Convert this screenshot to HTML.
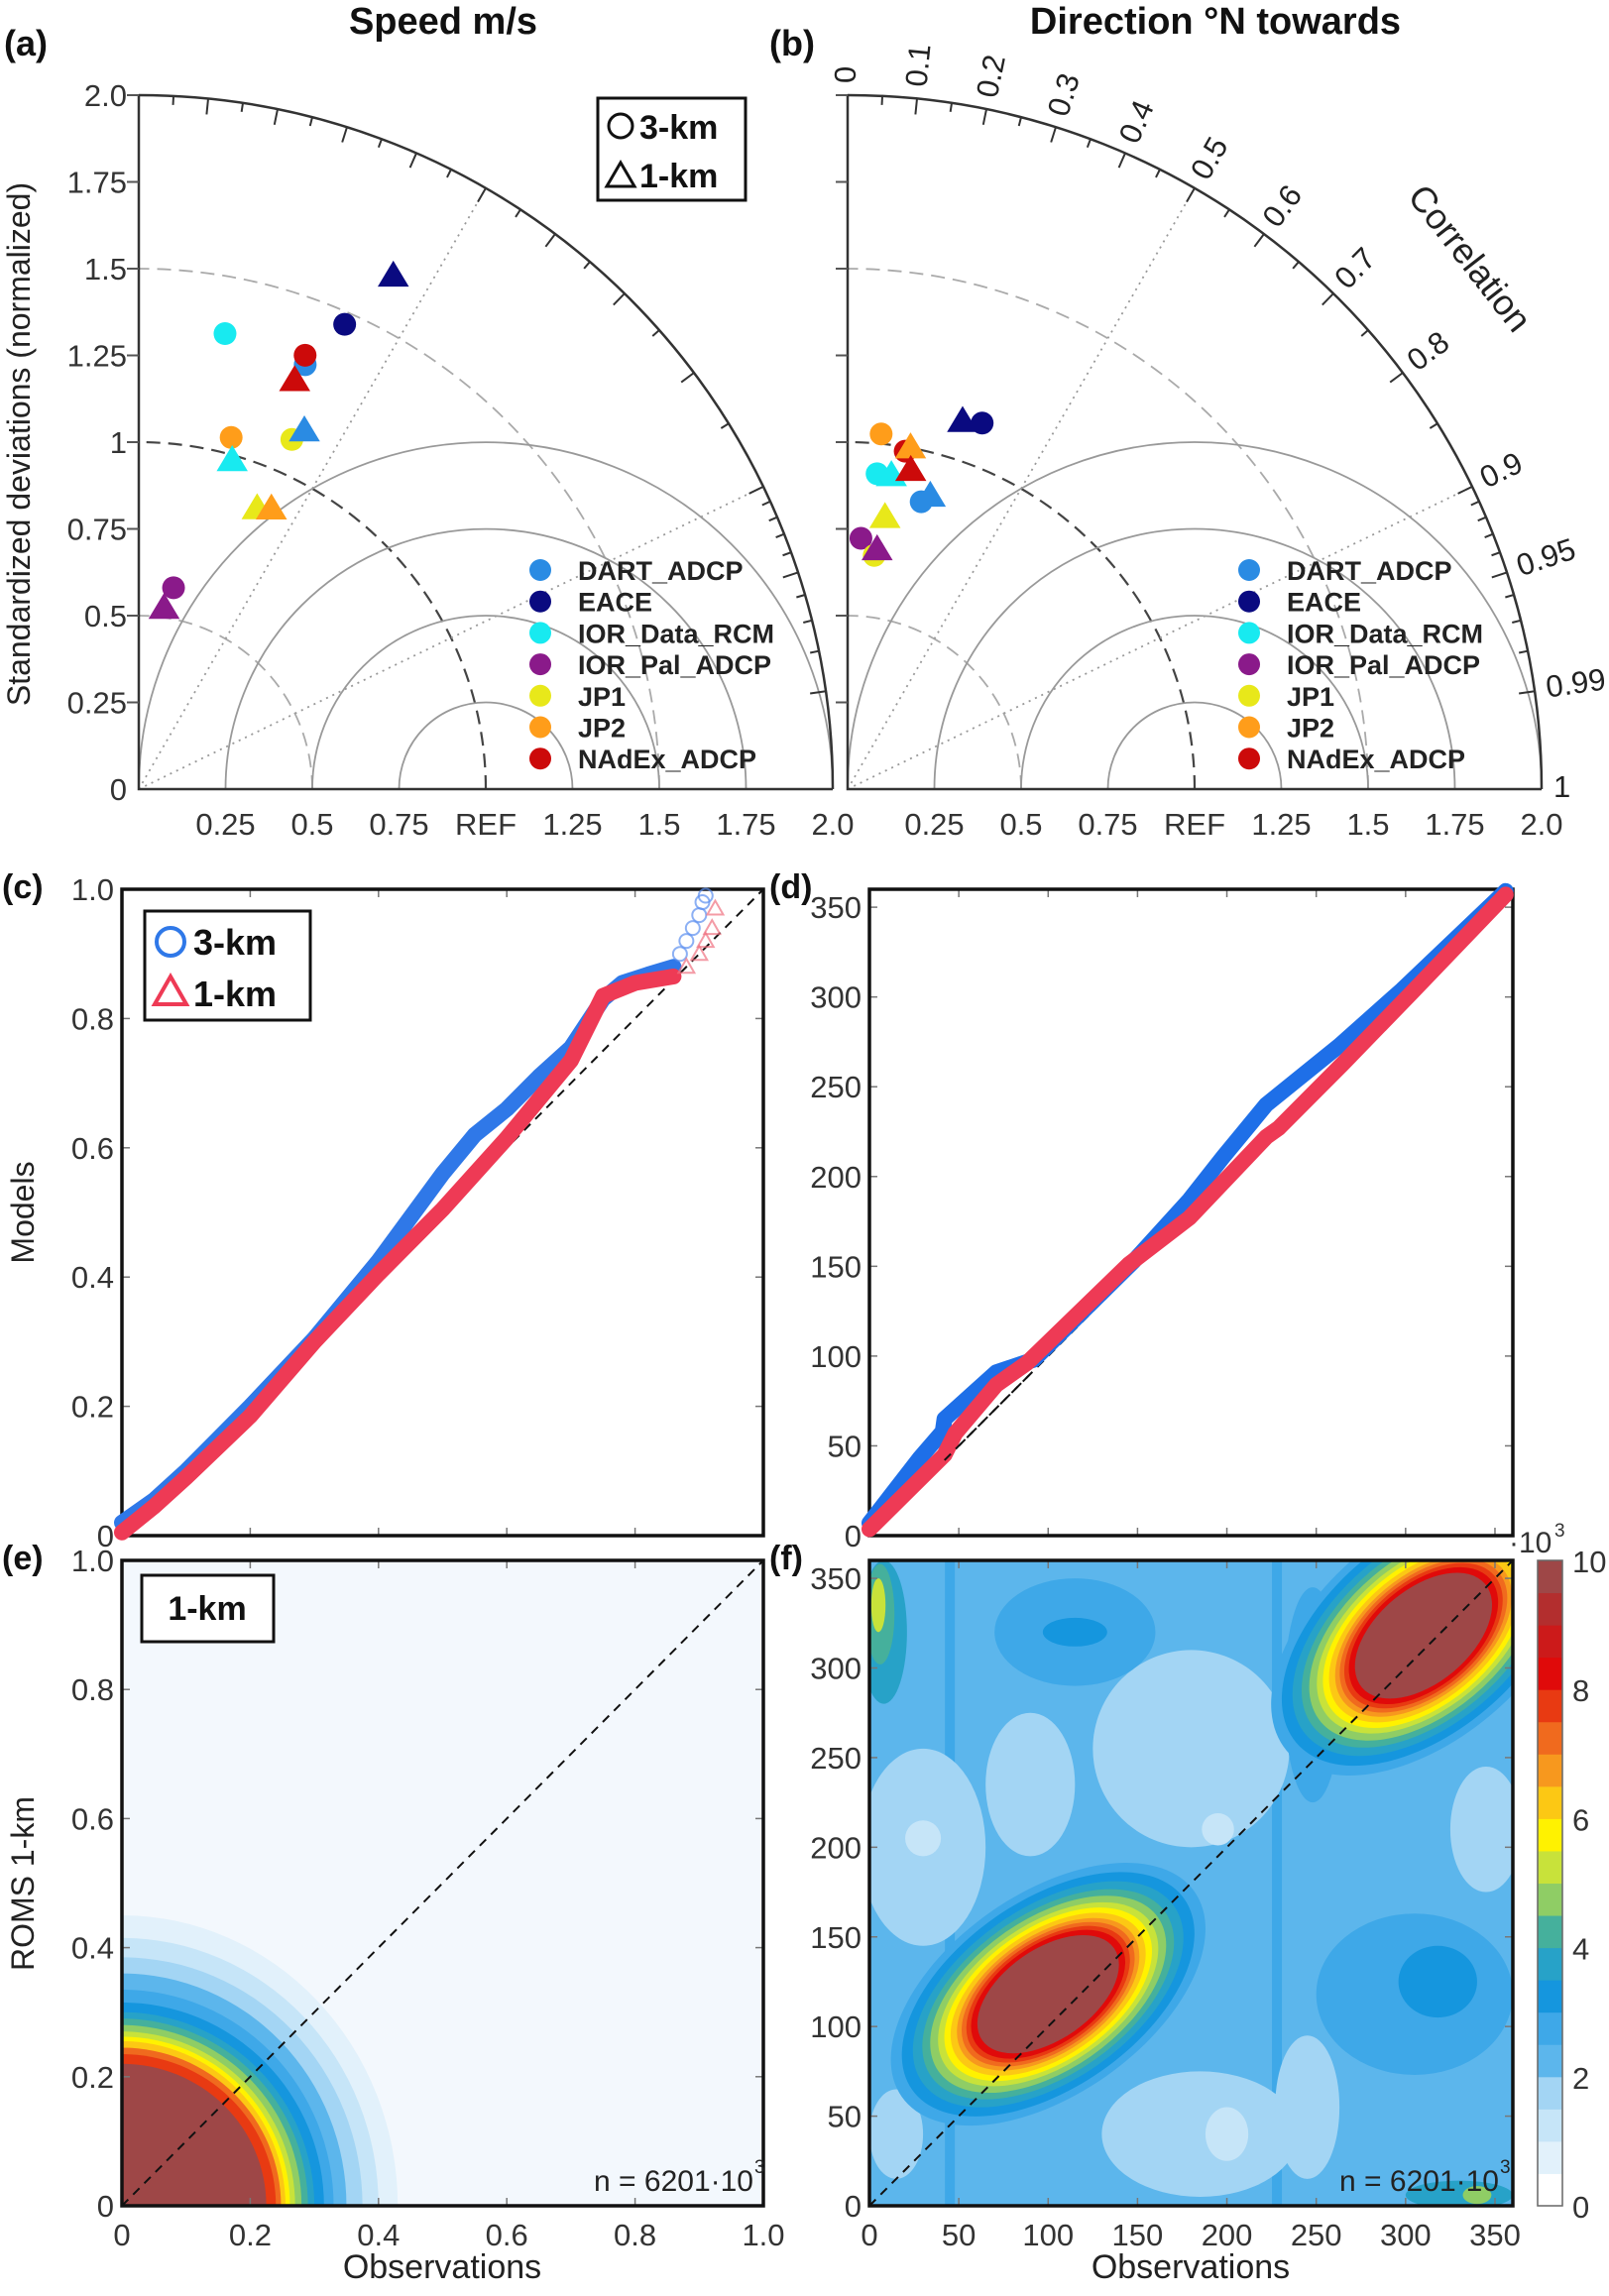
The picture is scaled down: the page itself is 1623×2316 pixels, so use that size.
<!DOCTYPE html>
<html><head><meta charset="utf-8"><style>
html,body{margin:0;padding:0;background:#fff;overflow:hidden;width:1623px;height:2316px;}
svg{display:block;font-family:"Liberation Sans",Arial,sans-serif;}
</style></head><body>
<svg id="chart" xmlns="http://www.w3.org/2000/svg" width="1623" height="2316" viewBox="0 0 1623 2316">
<defs>
<clipPath id="clipE"><rect x="123" y="1574" width="647" height="651"/></clipPath>
<clipPath id="clipF"><rect x="877" y="1574" width="649" height="651"/></clipPath>
</defs>
<text x="447" y="34" font-size="38" font-weight="bold" text-anchor="middle" fill="#111">Speed m/s</text>
<text x="1226" y="34" font-size="38" font-weight="bold" text-anchor="middle" fill="#111">Direction °N towards</text>
<text x="4" y="56" font-size="36" font-weight="bold" fill="#111">(a)</text>
<text x="776" y="56" font-size="36" font-weight="bold" fill="#111">(b)</text>
<text x="2" y="906" font-size="34" font-weight="bold" fill="#111">(c)</text>
<text x="776" y="906" font-size="34" font-weight="bold" fill="#111">(d)</text>
<text x="2" y="1583" font-size="34" font-weight="bold" fill="#111">(e)</text>
<text x="776" y="1583" font-size="34" font-weight="bold" fill="#111">(f)</text>
<text transform="translate(30,448) rotate(-90)" font-size="32" text-anchor="middle" fill="#222">Standardized deviations (normalized)</text>
<text transform="translate(1473,268) rotate(52)" font-size="36" text-anchor="middle" fill="#222">Correlation</text>
<text transform="translate(34,1223) rotate(-90)" font-size="32" text-anchor="middle" fill="#222">Models</text>
<text transform="translate(34,1900) rotate(-90)" font-size="32" text-anchor="middle" fill="#222">ROMS 1-km</text>
<text x="446" y="2298" font-size="34" text-anchor="middle" fill="#222">Observations</text>
<text x="1201" y="2298" font-size="34" text-anchor="middle" fill="#222">Observations</text>
<g id="gA"></g>
<g id="gB"></g>
<g id="gC"></g>
<g id="gD"></g>
<g id="gE"></g>
<g id="gF"></g>
<g id="gCB"></g>
<g>
<rect x="603" y="99" width="149" height="103" fill="#fff" stroke="#111" stroke-width="3"/>
<circle cx="626" cy="127" r="12" fill="none" stroke="#111" stroke-width="3"/>
<text x="645" y="140" font-size="34" font-weight="bold" fill="#111">3-km</text>
<path d="M626,164 L640,188 L612,188 Z" fill="none" stroke="#111" stroke-width="3"/>
<text x="645" y="189" font-size="34" font-weight="bold" fill="#111">1-km</text>
</g>
<g>
<rect x="146" y="919" width="167" height="110" fill="#fff" stroke="#111" stroke-width="3"/>
<circle cx="172" cy="950" r="14" fill="none" stroke="#2f78e8" stroke-width="4"/>
<text x="195" y="963" font-size="36" font-weight="bold" fill="#111">3-km</text>
<path d="M172,985 L188,1013 L156,1013 Z" fill="none" stroke="#ee3a55" stroke-width="4"/>
<text x="195" y="1015" font-size="36" font-weight="bold" fill="#111">1-km</text>
</g>
<script>
// ---------- DATA ----------
const sites = ['DART_ADCP','EACE','IOR_Data_RCM','IOR_Pal_ADCP','JP1','JP2','NAdEx_ADCP'];
const siteColors = ['#2a8be3','#0a0a80','#18eaf0','#8a1a8a','#e8e81a','#ff9d1a','#cc0a0a'];
const speedStd3 = [1.314,1.465,1.336,0.589,1.100,1.048,1.339];
const speedCor3 = [0.365,0.405,0.186,0.170,0.401,0.254,0.358];
const speedStd1 = [1.139,1.652,0.986,0.528,0.879,0.895,1.262];
const speedCor1 = [0.419,0.444,0.273,0.138,0.388,0.427,0.356];
const dirStd3 = [0.855,1.124,0.913,0.724,0.678,1.028,0.988];
const dirCor3 = [0.248,0.345,0.093,0.053,0.113,0.094,0.168];
const dirStd1 = [0.879,1.112,0.914,0.697,0.792,1.002,0.938];
const dirCor1 = [0.271,0.298,0.138,0.122,0.136,0.181,0.194];
const corrLabels = ['0','0.1','0.2','0.3','0.4','0.5','0.6','0.7','0.8','0.9','0.95','0.99','1'];
const corrLabelVals = [0,0.1,0.2,0.3,0.4,0.5,0.6,0.7,0.8,0.9,0.95,0.99,1];
const stdTicks = [0.25,0.5,0.75,1,1.25,1.5,1.75,2.0];
const stdTickLabels = ['0.25','0.5','0.75','1','1.25','1.5','1.75','2.0'];
const stdXLabels = ['0.25','0.5','0.75','REF','1.25','1.5','1.75','2.0'];
const qqSpeedObs3 = [0,0.05,0.1,0.15,0.2,0.3,0.4,0.5,0.55,0.6,0.65,0.7,0.75,0.78,0.82,0.86];
const qqSpeedMod3 = [0.02,0.055,0.1,0.15,0.2,0.305,0.425,0.56,0.62,0.66,0.71,0.755,0.83,0.855,0.868,0.88];
const qqSpeedTailObs3 = [0.87,0.88,0.89,0.9,0.905,0.91];
const qqSpeedTailMod3 = [0.9,0.92,0.94,0.96,0.98,0.99];
const qqSpeedObs1 = [0,0.05,0.1,0.2,0.3,0.4,0.5,0.6,0.7,0.75,0.8,0.86];
const qqSpeedMod1 = [0.005,0.045,0.09,0.185,0.3,0.405,0.505,0.615,0.735,0.835,0.855,0.865];
const qqSpeedTailObs1 = [0.88,0.9,0.91,0.92,0.925];
const qqSpeedTailMod1 = [0.88,0.9,0.92,0.94,0.97];
const qqDirObs3 = [0,28,41,42,71,92,148,179,198,222,263,298,356];
const qqDirMod3 = [7,43,58,65,91,98,153,187,211,240,273,304,359];
const qqDirObs1 = [0,42,48,71,88,145,179,222,229,265,303,356];
const qqDirMod1 = [3.6,45,57,84,96,151,177,222,227,263,302,357];
const unitTicks = [0,0.2,0.4,0.6,0.8,1.0];
const unitTickLabels = ['0','0.2','0.4','0.6','0.8','1.0'];
const degTicks = [0,50,100,150,200,250,300,350];
const degTickLabels = ['0','50','100','150','200','250','300','350'];
const cbTicks = [0,2,4,6,8,10];
const cbTickLabels = ['0','2','4','6','8','10'];
const cmap = ['#ffffff','#e2f1fb','#c6e5f8','#a3d5f4','#5cb6ec','#3ea8e8','#1596de','#27a2c8','#45b09c','#8fcd65',
              '#c8e23a','#fff200','#fcc814','#f7981e','#f06a1e','#e83a12','#e00a0a','#cc1a1a','#b32e2e','#9e4747'];
const eLevels = [0.6,1.1,1.6,2.1,2.6,3.1,3.6,4.1,4.6,5.1,5.6,6.1,7.1,7.6,9.8];
const eRadX = [0.43,0.40,0.375,0.35,0.33,0.315,0.30,0.29,0.28,0.27,0.262,0.255,0.248,0.24,0.225];
const eRadY = [0.45,0.415,0.385,0.36,0.335,0.315,0.30,0.29,0.28,0.27,0.262,0.255,0.245,0.235,0.22];
const fLevel = [1.6,1.1,1.6,1.2,1.6,1.1,1.6,1.7,1.7,1.8,2.8,3.3,2.8,3.4,2.7,3.6,4.4,5.0,3.8,4.6];
const fCx    = [30, 30, 180,195,185,200,245,345,15, 90, 115,115,305,318,248,8,  6,  5,  330,340];
const fCy    = [200,205,255,210,40, 40, 55, 210,40, 235,320,320,118,125,285,320,330,335,6,  6];
const fRx    = [35, 10, 55, 9,  55, 12, 18, 20, 15, 25, 45, 18, 55, 22, 16, 13, 8,  4,  30, 8];
const fRy    = [55, 10, 55, 9,  35, 15, 40, 35, 25, 40, 30, 8,  45, 20, 60, 40, 28, 15, 8,  5];
const stripeX = [45,228];
const stripeLevel = [2.8,2.9];
const blobCx = [100,310];
const blobCy = [118,318];
const blobA = [100,100];
const blobB = [56,58];
const blobAngle = [35,40];
const blobLevels = [2.6,3.1,3.6,4.1,4.6,5.1,5.6,6.1,6.6,7.1,7.6,8.1,9.8];
const blobScale = [1,0.93,0.86,0.8,0.75,0.7,0.66,0.62,0.58,0.55,0.52,0.49,0.45];

// ---------- DRAW ----------
const NS='http://www.w3.org/2000/svg';
function mk(tag, attrs, parent){const e=document.createElementNS(NS,tag);for(const k in attrs)e.setAttribute(k,attrs[k]);parent.appendChild(e);return e;}
function col(v){let i=Math.floor(v/0.5);if(i<0)i=0;if(i>19)i=19;return cmap[i];}

const U=350;
function taylor(g, ox, oy, stds3, cors3, stds1, cors1, withLabels, key){
  const R=2*U;
  [0.5,1.0,1.5].forEach(s=>{
    const e=mk('path',{d:`M${ox+s*U},${oy} A${s*U},${s*U} 0 0 0 ${ox},${oy-s*U}`,fill:'none',stroke:s===1?'#444':'#aaa','stroke-width':s===1?2.2:1.8,'stroke-dasharray':'14,8'},g);
    
    
  });
  [0.25,0.5,0.75,1.0].forEach(r=>{
    const cx=ox+U;
    const e=mk('path',{d:`M${cx+r*U},${oy} A${r*U},${r*U} 0 0 0 ${cx-r*U},${oy}`,fill:'none',stroke:'#999','stroke-width':1.8},g);
    
    
  });
  [0.5,0.9].forEach(c=>{
    const th=Math.acos(c);
    const e=mk('line',{x1:ox,y1:oy,x2:ox+R*Math.cos(th),y2:oy-R*Math.sin(th),stroke:'#999','stroke-width':1.8,'stroke-dasharray':'2,5'},g);
    
    
  });
  const oa=mk('path',{d:`M${ox+R},${oy} A${R},${R} 0 0 0 ${ox},${oy-R}`,fill:'none',stroke:'#333','stroke-width':2.5},g);
  
  
  const ax=mk('path',{d:`M${ox},${oy-R} L${ox},${oy} L${ox+R},${oy}`,fill:'none',stroke:'#333','stroke-width':2.5},g);
  
  
  const tv=[];for(let i=1;i<=18;i++)tv.push(i*0.05);for(let i=91;i<=99;i++)tv.push(i/100);
  tv.forEach(c=>{
    const th=Math.acos(c);const major=(Math.abs(c*10-Math.round(c*10))<1e-6)||c===0.95||c===0.99;
    const L=major?16:9;
    const t=mk('line',{x1:ox+R*Math.cos(th),y1:oy-R*Math.sin(th),x2:ox+(R-L)*Math.cos(th),y2:oy-(R-L)*Math.sin(th),stroke:'#333','stroke-width':2},g);
    
    
  });
  stdTicks.forEach((s,i)=>{
    const t=mk('line',{x1:ox-12,y1:oy-s*U,x2:ox,y2:oy-s*U,stroke:'#555','stroke-width':2},g);
    
    
    const xl=mk('text',{x:ox+s*U,y:oy+46,'font-size':31,'text-anchor':'middle',fill:'#333'},g);
    xl.textContent=stdXLabels[i];
    
    
    if(withLabels){
      const yl=mk('text',{x:ox-12,y:oy-s*U+11,'font-size':31,'text-anchor':'end',fill:'#333'},g);
      yl.textContent=stdTickLabels[i];
      
      
    }
  });
  if(withLabels){
    const z=mk('text',{x:ox-12,y:oy+11,'font-size':31,'text-anchor':'end',fill:'#333'},g);
    z.textContent='0';
    
    
  }
  function tri(x,y,color){
    const s=15;
    const p=mk('path',{d:`M${x},${y-s} L${x+s*1.05},${y+s*0.75} L${x-s*1.05},${y+s*0.75} Z`,fill:color},g);
    
    
  }
  sites.forEach((n,i)=>{
    const th=Math.acos(cors3[i]);
    const c=mk('circle',{cx:ox+stds3[i]*U*Math.cos(th),cy:oy-stds3[i]*U*Math.sin(th),r:11.5,fill:siteColors[i]},g);
    
    
  });
  sites.forEach((n,i)=>{
    const th=Math.acos(cors1[i]);
    tri(ox+stds1[i]*U*Math.cos(th),oy-stds1[i]*U*Math.sin(th),siteColors[i]);
  });
  const lx=ox+405, ty=ox+443;
  sites.forEach((n,i)=>{
    const y=575+31.7*i;
    const c=mk('circle',{cx:lx,cy:y,r:11,fill:siteColors[i]},g);
    
    
    const t=mk('text',{x:ty,y:y+10,'font-size':27,'font-weight':'bold',fill:'#222'},g);
    t.textContent=n;
    
    
  });
  if(key){
    corrLabelVals.forEach((c,i)=>{
      const th=Math.acos(c);const rr=R+12;
      const x=ox+rr*Math.cos(th),y=oy-rr*Math.sin(th);
      const t=mk('text',{x:x,y:y,'font-size':31,fill:'#222','dominant-baseline':'middle',transform:`rotate(${-th*180/Math.PI},${x},${y})`},g);
      t.textContent=corrLabels[i];
      
      
    });
  }
}
taylor(document.getElementById('gA'),140,796,speedStd3,speedCor3,speedStd1,speedCor1,true,false);
taylor(document.getElementById('gB'),855,796,dirStd3,dirCor3,dirStd1,dirCor1,false,true);

function frame(g,x0,y0,x1,y1,xt,xmax,yt,ymax,ylab,xlab,showX){
  const sx=v=>x0+(v/xmax)*(x1-x0), sy=v=>y0-(v/ymax)*(y0-y1);
  xt.forEach((v,i)=>{
    [[y0,y0-8],[y1,y1+8]].forEach(p=>{
      const t=mk('line',{x1:sx(v),y1:p[0],x2:sx(v),y2:p[1],stroke:'#777','stroke-width':1.5},g);
      
      
    });
    if(showX){
      const l=mk('text',{x:sx(v),y:y0+40,'font-size':31,'text-anchor':'middle',fill:'#333'},g);
      l.textContent=xlab[i];
      
      
    }
  });
  yt.forEach((v,i)=>{
    [[x0,x0+8],[x1,x1-8]].forEach(p=>{
      const t=mk('line',{x1:p[0],y1:sy(v),x2:p[1],y2:sy(v),stroke:'#777','stroke-width':1.5},g);
      
      
    });
    const l=mk('text',{x:x0-8,y:sy(v)+11,'font-size':31,'text-anchor':'end',fill:'#333'},g);
    l.textContent=ylab[i];
    
    
  });
  const d=mk('line',{x1:sx(0),y1:sy(0),x2:sx(Math.min(xmax,ymax)),y2:sy(Math.min(xmax,ymax)),stroke:'#111','stroke-width':2,'stroke-dasharray':'9,7'},g);
  
  
  const b=mk('rect',{x:x0,y:y1,width:x1-x0,height:y0-y1,fill:'none',stroke:'#111','stroke-width':3.5},g);
  
  
  return [sx,sy];
}
function qqLine(g,sx,sy,xs,ys,color,name){
  const p=mk('polyline',{points:xs.map((v,i)=>sx(v)+','+sy(ys[i])).join(' '),fill:'none',stroke:color,'stroke-width':16,'stroke-linejoin':'round','stroke-linecap':'round'},g);
  
  
}
{
  const g=document.getElementById('gC');
  const s=frame(g,123,1549,770,897,unitTicks,1,unitTicks,1,unitTickLabels,unitTickLabels,false);
  qqLine(g,s[0],s[1],qqSpeedObs3,qqSpeedMod3,'#2f78e8','qq-line-3km');
  qqSpeedTailObs3.forEach((v,i)=>{
    const c=mk('circle',{cx:s[0](v),cy:s[1](qqSpeedTailMod3[i]),r:7,fill:'none',stroke:'#5b8ff0','stroke-width':2,opacity:0.7},g);
    
    
  });
  qqLine(g,s[0],s[1],qqSpeedObs1,qqSpeedMod1,'#ee3a55','qq-line-1km');
  qqSpeedTailObs1.forEach((v,i)=>{
    const x=s[0](v),y=s[1](qqSpeedTailMod1[i]);
    const c=mk('path',{d:`M${x},${y-8} L${x+8},${y+6} L${x-8},${y+6} Z`,fill:'none',stroke:'#f07080','stroke-width':2,opacity:0.7},g);
    
    
  });
}
{
  const g=document.getElementById('gD');
  const s=frame(g,877,1549,1526,897,degTicks,360,degTicks,360,degTickLabels,degTickLabels,false);
  qqLine(g,s[0],s[1],qqDirObs3,qqDirMod3,'#1e6fe8','qq-dir-line-3km');
  qqLine(g,s[0],s[1],qqDirObs1,qqDirMod1,'#ee3a55','qq-dir-line-1km');
  const d=mk('line',{x1:s[0](42),y1:s[1](42),x2:s[0](90),y2:s[1](90),stroke:'#111','stroke-width':2,'stroke-dasharray':'9,7'},g);
  
  
}
{
  const g=document.getElementById('gE');
  const x0=123,y0=2225,x1=770,y1=1574;
  const sx=v=>x0+v*(x1-x0), sy=v=>y0-v*(y0-y1);
  const cg=mk('g',{'clip-path':'url(#clipE)'},g);
  
  
  const bg=mk('rect',{x:x0,y:y1,width:x1-x0,height:y0-y1,fill:'#f3f8fd'},cg);
  
  
  eLevels.forEach((lv,i)=>{
    const rx=eRadX[i]*(x1-x0), ry=eRadY[i]*(y0-y1), cx=sx(0), cy=sy(0);
    const e=mk('path',{d:`M${cx},${cy} L${cx+rx},${cy} A${rx},${ry} 0 0 0 ${cx},${cy-ry} Z`,fill:col(lv)},cg);
    
    
  });
  frame(g,x0,y0,x1,y1,unitTicks,1,unitTicks,1,unitTickLabels,unitTickLabels,true);
  const n=mk('text',{x:760,y:2210,'font-size':30,'text-anchor':'end',fill:'#222'},g);
  n.textContent='n = 6201·10';
  
  
  const n3=mk('text',{x:761,y:2192,'font-size':19,fill:'#222'},g);
  n3.textContent='3';
  
  
  const kb=mk('rect',{x:143,y:1589,width:133,height:67,fill:'#fff',stroke:'#111','stroke-width':3},g);
  
  
  const kt=mk('text',{x:209,y:1634,'font-size':34,'font-weight':'bold','text-anchor':'middle',fill:'#111'},g);
  kt.textContent='1-km';
  
  
}
{
  const g=document.getElementById('gF');
  const x0=877,y0=2225,x1=1526,y1=1574;
  const kx=(x1-x0)/360, ky=(y0-y1)/360;
  const sx=v=>x0+v*kx, sy=v=>y0-v*ky;
  const cg=mk('g',{'clip-path':'url(#clipF)'},g);
  
  
  const bg=mk('rect',{x:x0,y:y1,width:x1-x0,height:y0-y1,fill:col(2.2)},cg);
  
  
  stripeX.forEach((v,i)=>{
    const r=mk('rect',{x:sx(v)-5,y:y1,width:10,height:y0-y1,fill:col(stripeLevel[i])},cg);
    
    
  });
  fLevel.forEach((lv,i)=>{
    const e=mk('ellipse',{cx:sx(fCx[i]),cy:sy(fCy[i]),rx:fRx[i]*kx,ry:fRy[i]*ky,fill:col(lv)},cg);
    
    
  });
  blobCx.forEach((cx,b)=>{
    blobLevels.forEach((lv,i)=>{
      const X=sx(cx),Y=sy(blobCy[b]);
      const e=mk('ellipse',{cx:X,cy:Y,rx:blobA[b]*blobScale[i]*kx,ry:blobB[b]*blobScale[i]*ky,fill:col(lv),transform:`rotate(${-blobAngle[b]},${X},${Y})`},cg);
      
      
    });
  });
  frame(g,x0,y0,x1,y1,degTicks,360,degTicks,360,degTickLabels,degTickLabels,true);
  const n=mk('text',{x:1512,y:2210,'font-size':30,'text-anchor':'end',fill:'#222'},g);
  n.textContent='n = 6201·10';
  
  
  const n3=mk('text',{x:1513,y:2192,'font-size':19,fill:'#222'},g);
  n3.textContent='3';
  
  
}
{
  const g=document.getElementById('gCB');
  const x0=1551,w=25,yb=2225,yt=1574;
  const sy=v=>yb-(v/10)*(yb-yt);
  cmap.forEach((c,i)=>{
    const r=mk('rect',{x:x0,y:sy((i+1)*0.5),width:w,height:sy(i*0.5)-sy((i+1)*0.5)+0.5,fill:c},g);
    
    
  });
  const f=mk('rect',{x:x0,y:yt,width:w,height:yb-yt,fill:'none',stroke:'#666','stroke-width':1.5},g);
  
  
  cbTicks.forEach((v,i)=>{
    const t=mk('text',{x:x0+w+10,y:sy(v)+12,'font-size':31,fill:'#333'},g);
    t.textContent=cbTickLabels[i];
    
    
  });
  const u=mk('text',{x:1522,y:1566,'font-size':30,fill:'#333'},g);
  u.textContent='·10';
  
  
  const u3=mk('text',{x:1568,y:1550,'font-size':19,fill:'#333'},g);
  u3.textContent='3';
  
  
}
</script>
</svg>
</body></html>
